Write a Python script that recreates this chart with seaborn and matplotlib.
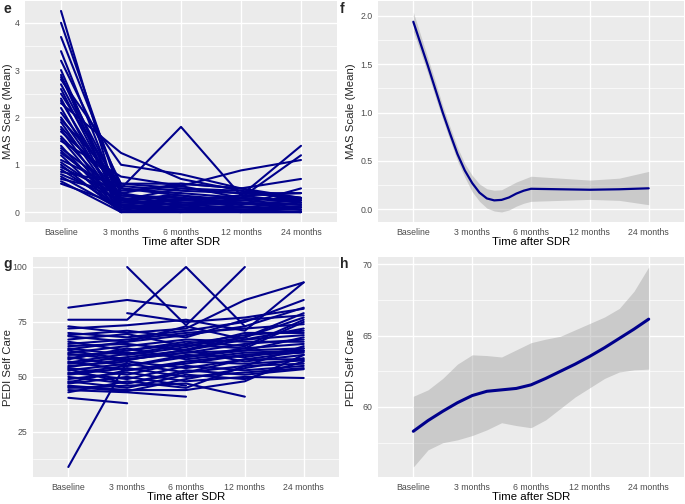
import numpy as np
import pandas as pd
import matplotlib
matplotlib.use("Agg")
import matplotlib.pyplot as plt
import seaborn as sns
from matplotlib.ticker import MultipleLocator, FormatStrFormatter

# Data

time_labels = ["Baseline", "3 months", "6 months", "12 months", "24 months"]

# e: MAS per subject (Baseline, 3m, 6m, 12m, 24m), None = not measured
mas_subjects = [
    [4.25, 0.00, 0.10, 0.00, 0.00],
    [4.00, 0.35, 0.30, 0.20, 0.10],
    [3.70, 0.50, 0.40, 0.30, 0.25],
    [3.40, 0.20, 0.15, 0.10, 0.05],
    [3.20, 0.60, 0.50, 0.40, 0.40],
    [3.00, 0.10, 0.05, 0.00, 0.00],
    [2.90, 0.00, 0.00, 0.00, 0.10],
    [2.85, 0.40, 0.60, 0.50, 0.30],
    [2.80, 1.00, 0.80, 0.50, 0.20],
    [2.70, 0.30, 0.20, 0.20, 0.15],
    [2.60, 0.15, 0.10, 0.05, None],
    [2.50, 0.50, 1.80, 0.35, 1.40],
    [2.40, 0.00, 0.05, 0.10, 0.20],
    [2.35, 0.25, 0.35, 0.25, 0.30],
    [2.30, 1.25, 0.70, 0.45, 0.25],
    [2.20, 0.05, 0.00, None, None],
    [2.10, 0.45, 0.55, 0.88, 1.10],
    [2.00, 0.20, 0.25, 0.30, 1.20],
    [1.95, 0.60, 0.60, 0.50, 0.70],
    [1.90, 0.10, 0.20, 0.15, 0.50],
    [1.80, 0.35, 0.30, 0.10, 0.10],
    [1.75, 0.00, 0.10, 0.05, 0.00],
    [1.70, 0.55, 0.45, 0.40, 0.30],
    [1.60, 0.25, 0.15, 0.20, None],
    [1.55, 0.05, 0.20, None, None],
    [1.50, 0.75, 0.55, 0.30, 0.20],
    [1.40, 0.00, None, None, None],
    [1.35, 0.40, 0.20, 0.25, 0.15],
    [1.30, 0.15, 0.05, 0.10, 0.05],
    [1.25, 0.30, None, None, None],
    [1.20, 0.00, 0.00, 0.05, 0.10],
    [1.10, 0.50, 0.35, 0.15, 0.25],
    [1.05, 0.20, 0.40, None, None],
    [1.00, 0.00, 0.15, 0.00, 0.00],
    [0.95, 0.35, 0.25, 0.35, 0.40],
    [0.90, 0.10, 0.00, 0.00, None],
    [0.85, 0.60, None, None, None],
    [0.80, 0.25, 0.50, 0.45, 0.30],
    [0.75, 0.05, 0.30, 0.20, 0.05],
    [0.70, 0.40, 0.10, 0.05, 0.00],
    [0.65, 0.00, None, None, None],
    [0.60, 0.15, 0.25, 0.35, 0.20],
]

# f: smoothed MAS mean with confidence band
mas_fit_x = [0, 0.125, 0.25, 0.375, 0.5, 0.625, 0.75, 0.875, 1.0, 1.125, 1.25,
             1.375, 1.5, 1.625, 1.75, 1.875, 2.0, 2.5, 3.0, 3.5, 4.0]
mas_fit = [1.94, 1.71, 1.48, 1.24, 1.00, 0.78, 0.57, 0.40, 0.27, 0.17, 0.11,
           0.09, 0.095, 0.12, 0.16, 0.19, 0.21, 0.205, 0.20, 0.205, 0.215]
mas_lo = [1.84, 1.62, 1.40, 1.16, 0.93, 0.71, 0.50, 0.33, 0.18, 0.08, 0.01,
          -0.02, -0.03, -0.01, 0.03, 0.06, 0.08, 0.09, 0.10, 0.09, 0.045]
mas_hi = [2.04, 1.80, 1.56, 1.32, 1.07, 0.85, 0.64, 0.47, 0.35, 0.26, 0.21,
          0.195, 0.20, 0.24, 0.28, 0.31, 0.34, 0.32, 0.30, 0.32, 0.39]

# g: PEDI self care per subject
pedi_subjects = [
    [81.5, 85.0, 81.5, None, None],
    [76.0, 76.0, 100.0, 73.0, None],
    [None, 100.0, 73.5, 100.0, None],
    [None, 79.0, 75.0, 77.0, 81.0],
    [9.0, 57.0, None, None, None],
    [73.0, 70.0, 72.0, 85.0, 93.0],
    [72.0, 73.5, 76.0, 71.0, 93.0],
    [70.0, 68.0, 71.0, 75.0, 85.0],
    [68.5, 66.0, 69.0, 73.0, 81.5],
    [67.0, 69.5, 64.0, 68.0, 79.0],
    [66.0, 62.0, 66.0, 64.0, 76.0],
    [64.0, 65.0, 62.0, 67.0, 72.0],
    [63.0, 60.0, 63.5, 70.0, 70.0],
    [62.0, 58.0, 61.0, 62.0, 68.0],
    [61.0, 64.0, 67.0, 66.0, 66.0],
    [60.0, 61.0, 59.0, 63.0, 65.0],
    [59.0, 55.0, 60.0, 59.0, 63.0],
    [58.0, 63.0, 58.0, 61.0, 62.0],
    [57.0, 53.0, 56.0, 60.0, 61.0],
    [56.0, 59.0, 62.0, 57.0, 60.0],
    [55.0, 57.0, 54.0, 58.0, 58.0],
    [54.0, 51.0, 57.0, 56.0, 57.5],
    [53.0, 56.0, 52.0, 55.0, 56.0],
    [52.0, 49.0, 55.0, 53.0, 55.0],
    [51.0, 54.0, 50.0, 52.0, 54.0],
    [50.0, 47.0, 53.0, 51.0, 53.5],
    [49.0, 52.0, 48.0, 50.0, 49.5],
    [48.0, 45.0, 51.0, 49.0, 57.0],
    [47.0, 50.0, 46.0, None, None],
    [46.0, 44.0, 44.0, 48.0, 60.0],
    [45.0, 46.0, 47.0, 41.0, None],
    [44.0, 43.0, 41.0, None, None],
    [43.0, 48.0, 45.0, 55.0, 64.0],
    [40.5, 38.0, None, None, None],
    [65.0, 67.0, 70.0, 72.0, 74.0],
    [69.0, 71.0, 68.0, 76.0, 78.0],
    [58.5, 62.0, 65.0, 69.0, 71.0],
    [54.5, 58.0, 61.0, 65.0, 67.0],
    [62.5, 66.0, 73.0, 67.0, 69.0],
    [51.5, 55.0, 59.0, 62.0, 63.0],
    [47.5, 53.0, 57.0, 60.0, 62.0],
    [56.5, 60.5, 64.5, 63.0, 75.0],
    [60.5, 57.5, 62.5, 68.0, 77.0],
    [45.5, 43.5, 49.0, 54.0, 58.5],
    [53.5, 47.0, 52.0, 58.0, 61.5],
]

# h: smoothed PEDI mean with confidence band
pedi_fit_x = [0, 0.25, 0.5, 0.75, 1.0, 1.25, 1.5, 1.75, 2.0, 2.25, 2.5, 2.75, 3.0, 3.25, 3.5, 3.75, 4.0]
pedi_fit = [58.3, 59.05, 59.7, 60.3, 60.8, 61.1, 61.2, 61.3, 61.55, 62.0, 62.5, 63.0, 63.55, 64.15, 64.8, 65.45, 66.15]
pedi_lo = [55.8, 57.0, 57.5, 57.7, 58.0, 58.4, 58.9, 58.7, 58.55, 59.1, 59.9, 60.7, 61.35, 62.0, 62.45, 62.6, 62.65]
pedi_hi = [60.75, 61.2, 62.0, 63.0, 63.65, 63.6, 63.5, 64.0, 64.5, 64.75, 64.95, 65.4, 65.85, 66.3, 66.9, 68.1, 69.8]

LINE = "#00008B"

sns.set_theme(style="darkgrid", rc={
    "axes.facecolor": "#EBEBEB",
    "grid.color": "white",
    "axes.edgecolor": "#EBEBEB",
})
plt.rcParams["font.family"] = ["Liberation Sans", "DejaVu Sans"]

fig = plt.figure(figsize=(6.85, 5.04), dpi=100)
W, H = 685.0, 504.0


def to_long(rows):
    recs = []
    for sid, row in enumerate(rows):
        for pos, v in enumerate(row):
            if v is not None:
                recs.append((sid, pos, v))
    return pd.DataFrame(recs, columns=["subject", "pos", "value"])


def add_ax(x0, x1, y0, y1):
    return fig.add_axes([x0 / W, 1 - y1 / H, (x1 - x0) / W, (y1 - y0) / H])


def style_axis(ax, ylabel, ylab_x, major, minor, ylim, fmt=None):
    ax.set_xlim(-0.6, 4.6)
    ax.set_ylim(*ylim)
    ax.set_xticks(range(5))
    ax.set_xticklabels(time_labels)
    ax.yaxis.set_major_locator(MultipleLocator(major))
    ax.yaxis.set_minor_locator(MultipleLocator(minor))
    if fmt:
        ax.yaxis.set_major_formatter(FormatStrFormatter(fmt))
    ax.grid(which="major", color="white", lw=1.0)
    ax.grid(which="minor", axis="y", color="white", lw=0.5)
    ax.grid(which="minor", axis="x", visible=False)
    for s in ax.spines.values():
        s.set_visible(False)
    ax.tick_params(which="major", length=2.5, width=0.6, color="#333333",
                   labelsize=6.3, labelcolor="#4D4D4D", pad=1.5)
    ax.tick_params(which="minor", length=0)
    ax.set_xlabel("Time after SDR", fontsize=8.2, labelpad=0.3, color="black")
    ax.set_ylabel("")
    pos = ax.get_position()
    fig.text(ylab_x / W, pos.y0 + pos.height / 2, ylabel, rotation=90,
             ha="center", va="center", fontsize=8.2)


ax_e = add_ax(25, 337, 1, 222)
ax_f = add_ax(378, 684, 1, 222)
ax_g = add_ax(33, 339, 257, 477)
ax_h = add_ax(378, 684, 257, 477)

# e
sns.lineplot(data=to_long(mas_subjects), x="pos", y="value", units="subject",
             estimator=None, color=LINE, lw=1.5, ax=ax_e, legend=False)
style_axis(ax_e, "MAS Scale (Mean)", 8, 1, 0.5, (-0.21, 4.46))

# f
ax_f.fill_between(mas_fit_x, mas_lo, mas_hi, color="#999999", alpha=0.4, lw=0)
sns.lineplot(x=mas_fit_x, y=mas_fit, color=LINE, lw=1.6, ax=ax_f)
style_axis(ax_f, "MAS Scale (Mean)", 351, 0.5, 0.25, (-0.134, 2.155), "%.1f")

# g
sns.lineplot(data=to_long(pedi_subjects), x="pos", y="value", units="subject",
             estimator=None, color=LINE, lw=1.5, ax=ax_g, legend=False)
style_axis(ax_g, "PEDI Self Care", 8, 25, 12.5, (4.45, 104.55))

# h
ax_h.fill_between(pedi_fit_x, pedi_lo, pedi_hi, color="#999999", alpha=0.4, lw=0)
sns.lineplot(x=pedi_fit_x, y=pedi_fit, color=LINE, lw=2.2, ax=ax_h)
style_axis(ax_h, "PEDI Self Care", 351, 5, 2.5, (55.1, 70.5))

for lbl, x, y in [("e", 3, 2), ("f", 340, 2), ("g", 3, 257), ("h", 340, 257)]:
    fig.text(x / W, 1 - y / H, lbl, fontsize=10, fontweight="bold",
             ha="left", va="top")

fig.savefig("out.png", dpi=100)
